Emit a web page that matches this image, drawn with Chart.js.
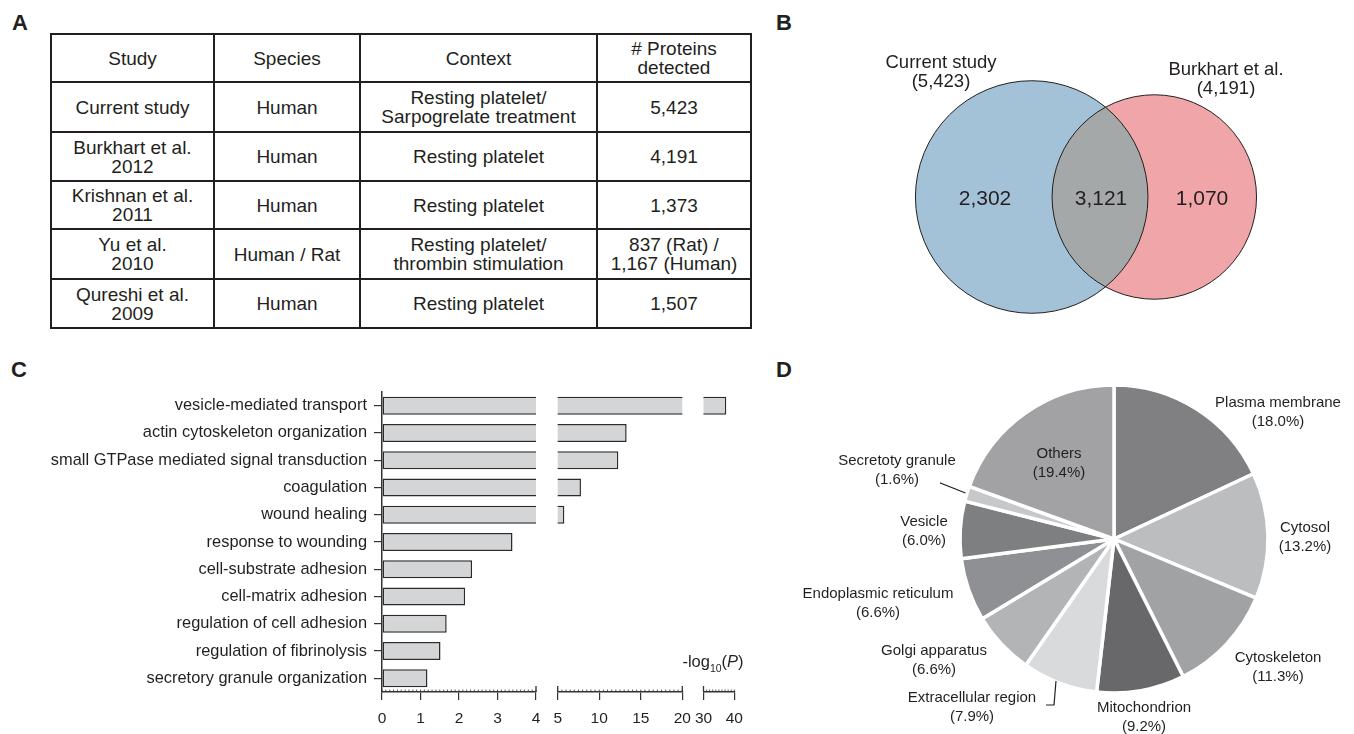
<!DOCTYPE html>
<html>
<head>
<meta charset="utf-8">
<script src="https://cdn.jsdelivr.net/npm/chart.js@4.4.1/dist/chart.umd.min.js"></script>
<style>
  html, body { margin: 0; padding: 0; background: #fff; }
  body { width: 1354px; height: 734px; position: relative; overflow: hidden;
         font-family: "Liberation Sans", Arial, sans-serif; color: #231f20; }
  .letter { position: absolute; font-weight: bold; font-size: 22px; line-height: 22px; }
  table.studies { position: absolute; left: 50px; top: 33px; border-collapse: collapse;
                  table-layout: fixed; font-size: 19px; line-height: 19px; }
  table.studies td { border: 2px solid #231f20; text-align: center; vertical-align: middle; padding: 0; }
  .lbl { position: absolute; transform: translate(-50%, -50%); text-align: center; white-space: nowrap; }
  canvas { position: absolute; }
</style>
</head>
<body>
<div class="letter" style="left:12px;top:12px">A</div>
<div class="letter" style="left:776px;top:12px">B</div>
<div class="letter" style="left:11px;top:359px">C</div>
<div class="letter" style="left:776px;top:359px">D</div>

<table class="studies" id="studies"></table>

<canvas id="venn" width="420" height="300" style="left:880px;top:47px"></canvas>
<canvas id="go-a" width="560" height="350" style="left:0px;top:380px"></canvas>
<canvas id="go-b" width="160" height="350" style="left:540px;top:380px"></canvas>
<canvas id="go-c" width="62" height="350" style="left:690px;top:380px"></canvas>
<canvas id="pie" width="348" height="340" style="left:940px;top:369px"></canvas>

<div class="lbl" style="left:713px;top:663px;font-size:16.5px">-log<sub style="font-size:10.5px">10</sub>(<i>P</i>)</div>

<script>
/* Platelet proteome figure — panels A-D. */

// ---- A: study table ----
const tableHead = ['Study', 'Species', 'Context', '# Proteins<br>detected'];
const tableStudies = ['Current study', 'Burkhart et al.<br>2012', 'Krishnan et al.<br>2011', 'Yu et al.<br>2010', 'Qureshi et al.<br>2009'];
const tableSpecies = ['Human', 'Human', 'Human', 'Human / Rat', 'Human'];
const tableContexts = ['Resting platelet/<br>Sarpogrelate treatment', 'Resting platelet', 'Resting platelet',
  'Resting platelet/<br>thrombin stimulation', 'Resting platelet'];
const tableProteins = ['5,423', '4,191', '1,373', '837 (Rat) /<br>1,167 (Human)', '1,507'];

// ---- B: overlap of protein sets ----
const vennSets = ['Current study', 'Burkhart et al.'];
const vennTotals = [5423, 4191];
const vennShared = 3121;

// ---- C: GO biological process enrichment, -log10(P) ----
const goTerms = ['vesicle-mediated transport', 'actin cytoskeleton organization',
  'small GTPase mediated signal transduction', 'coagulation', 'wound healing',
  'response to wounding', 'cell-substrate adhesion', 'cell-matrix adhesion',
  'regulation of cell adhesion', 'regulation of fibrinolysis', 'secretory granule organization'];
const goLogP = [37.4, 13.3, 12.3, 7.8, 5.8, 3.39, 2.34, 2.16, 1.68, 1.52, 1.18];

// ---- D: subcellular localisation ----
const locNames = ['Plasma membrane', 'Cytosol', 'Cytoskeleton', 'Mitochondrion', 'Extracellular region',
  'Golgi apparatus', 'Endoplasmic reticulum', 'Vesicle', 'Secretoty granule', 'Others'];
const locPercents = [18.0, 13.2, 11.3, 9.2, 7.9, 6.6, 6.6, 6.0, 1.6, 19.4];

// styles / layout
const FONT = '"Liberation Sans", Arial, sans-serif';
const INK = '#231f20';
const locColors = ['#808082', '#bcbdbf', '#a1a2a4', '#68686a', '#d9dadc', '#b3b4b6', '#8f9093', '#7e7f81', '#c7c8ca', '#a2a2a4'];
const locLabelAt = [[1278, 411], [1305, 536], [1278, 666], [1144, 716], [972, 706],
  [934, 659], [878, 602], [924, 530], [897, 469], [1059, 462]];
const VENN_K = 1.579; // px per sqrt(count)

Chart.defaults.font.family = FONT;
Chart.defaults.color = INK;
Chart.defaults.animation = false;
Chart.defaults.responsive = false;
Chart.defaults.events = [];
Chart.defaults.plugins.legend.display = false;
Chart.defaults.plugins.tooltip.enabled = false;

// ---- table ----
function renderTable() {
  const t = document.getElementById('studies');
  const widths = [163, 146, 237, 154];
  const heights = [48, 50, 49, 48, 50, 49];
  let html = '<colgroup>' + widths.map(w => `<col style="width:${w}px">`).join('') + '</colgroup>';
  html += `<tr style="height:${heights[0]}px">` + tableHead.map(h => `<td>${h}</td>`).join('') + '</tr>';
  tableStudies.forEach((s, i) => {
    html += `<tr style="height:${heights[i + 1]}px"><td>${s}</td><td>${tableSpecies[i]}</td>` +
      `<td>${tableContexts[i]}</td><td>${tableProteins[i]}</td></tr>`;
  });
  t.innerHTML = html;
}

// ---- labels as html text ----
function addLabel(x, y, html, size, lh) {
  const d = document.createElement('div');
  d.className = 'lbl';
  d.style.left = x + 'px';
  d.style.top = y + 'px';
  d.style.fontSize = size + 'px';
  d.style.lineHeight = lh + 'px';
  d.innerHTML = html;
  document.body.appendChild(d);
}

// ---- Venn: two bubbles + lens ----
const vennLens = {
  id: 'vennLens',
  afterDatasetsDraw(chart, args, opts) {
    const a = chart.getDatasetMeta(0).data[0];
    const b = chart.getDatasetMeta(1).data[0];
    const ctx = chart.ctx;
    ctx.save();
    ctx.beginPath(); ctx.arc(a.x, a.y, a.options.radius, 0, Math.PI * 2); ctx.clip();
    ctx.beginPath(); ctx.arc(b.x, b.y, b.options.radius, 0, Math.PI * 2);
    ctx.fillStyle = opts.color; ctx.fill();
    ctx.restore();
    ctx.save();
    ctx.lineWidth = opts.lineWidth; ctx.strokeStyle = opts.stroke;
    [a, b].forEach(p => { ctx.beginPath(); ctx.arc(p.x, p.y, p.options.radius, 0, Math.PI * 2); ctx.stroke(); });
    ctx.restore();
  }
};

function renderVenn() {
  new Chart(document.getElementById('venn'), {
    type: 'bubble',
    data: {
      datasets: [
        { data: [{ x: 0, y: 0, r: VENN_K * Math.sqrt(vennTotals[0]) }], backgroundColor: '#a3c1d7' },
        { data: [{ x: 1, y: 0, r: VENN_K * Math.sqrt(vennTotals[1]) }], backgroundColor: '#f0a6a8' }
      ]
    },
    options: {
      layout: { padding: 0, autoPadding: false },
      elements: { point: { borderWidth: 0 } },
      scales: {
        x: { display: false, min: -1.2374, max: 2.1884 },
        y: { display: false, min: -1, max: 1 }
      },
      plugins: { vennLens: { color: '#a5a8a9', stroke: INK, lineWidth: 1 } }
    },
    plugins: [vennLens]
  });
  const fmt = n => n.toLocaleString('en-US');
  addLabel(941, 70.5, `${vennSets[0]}<br>(${fmt(vennTotals[0])})`, 18.5, 19);
  addLabel(1226, 78, `${vennSets[1]}<br>(${fmt(vennTotals[1])})`, 18.5, 19);
  addLabel(985, 198, fmt(vennTotals[0] - vennShared), 21, 22);
  addLabel(1101, 198, fmt(vennShared), 21, 22);
  addLabel(1202, 198, fmt(vennTotals[1] - vennShared), 21, 22);
}

// ---- C: broken x axis = three bar charts side by side ----
const axisMarks = {
  id: 'axisMarks',
  afterDraw(chart, args, opts) {
    const s = chart.scales.x;
    const ctx = chart.ctx;
    const y0 = s.top;
    ctx.save();
    ctx.strokeStyle = '#333';
    ctx.lineWidth = 0.8;
    ctx.beginPath();
    for (let v = s.min; v <= s.max + 1e-9; v += opts.minor) {
      const x = s.getPixelForValue(v);
      ctx.moveTo(x, y0); ctx.lineTo(x, y0 - 2.5);
    }
    ctx.stroke();
    ctx.lineWidth = 1.3;
    ctx.beginPath();
    opts.cross.forEach(v => {
      const x = s.getPixelForValue(v);
      ctx.moveTo(x, y0 - 6); ctx.lineTo(x, y0);
    });
    ctx.stroke();
    ctx.restore();
  }
};

function goChart(id, min, max, step, padding, showLabels, marks) {
  return new Chart(document.getElementById(id), {
    type: 'bar',
    data: {
      labels: goTerms,
      datasets: [{
        data: goLogP,
        backgroundColor: '#d4d5d7',
        borderColor: '#2b2b2b',
        borderWidth: 1.5,
        borderSkipped: false,
        barPercentage: 0.66,
        categoryPercentage: 1,
        clip: 0
      }]
    },
    options: {
      indexAxis: 'y',
      layout: { padding, autoPadding: false },
      scales: {
        x: {
          type: 'linear', min, max,
          ticks: { stepSize: step, padding: 9, font: { size: 15.5 }, color: INK },
          grid: { drawOnChartArea: false, tickLength: 8, color: '#333', lineWidth: 1.2 },
          border: { color: '#333', width: 1.5 },
          afterFit(s) { s.height = 38; s.paddingLeft = 0; s.paddingRight = 0; }
        },
        y: showLabels ? {
          ticks: { autoSkip: false, padding: 7, font: { size: 16.4 }, color: INK },
          grid: { offset: false, drawOnChartArea: false, tickLength: 8, color: '#333', lineWidth: 1.2 },
          border: { color: '#333', width: 1.5 },
          afterFit(s) { s.width = 382; s.paddingTop = 0; s.paddingBottom = 0; }
        } : { display: false }
      },
      plugins: { axisMarks: marks }
    },
    plugins: [axisMarks]
  });
}

// ---- D: pie ----
const leaderLines = {
  id: 'leaderLines',
  afterDraw(chart, args, opts) {
    const ctx = chart.ctx;
    const ox = chart.canvas.offsetLeft, oy = chart.canvas.offsetTop;
    ctx.save();
    ctx.strokeStyle = INK;
    ctx.lineWidth = 1.2;
    opts.paths.forEach(p => {
      ctx.beginPath();
      p.forEach(([x, y], i) => i ? ctx.lineTo(x - ox, y - oy) : ctx.moveTo(x - ox, y - oy));
      ctx.stroke();
    });
    ctx.restore();
  }
};

function renderPie() {
  new Chart(document.getElementById('pie'), {
    type: 'pie',
    data: {
      labels: locNames,
      datasets: [{
        data: locPercents,
        backgroundColor: locColors,
        borderColor: '#ffffff',
        borderWidth: 3.5,
        radius: 154
      }]
    },
    options: {
      layout: { padding: 0 },
      plugins: {
        leaderLines: { paths: [
          [[931.5, 479.5], [965.5, 493]],
          [[1056, 681], [1054, 705], [1046, 705]]
        ] }
      }
    },
    plugins: [leaderLines]
  });
  locNames.forEach((n, i) => {
    const [x, y] = locLabelAt[i];
    addLabel(x, y, `${n}<br>(${locPercents[i].toFixed(1)}%)`, 15, 18.5);
  });
}

// ---- Boot ----
renderTable();
renderVenn();
goChart('go-a', 0, 4, 1, { top: 12, right: 24, left: 0, bottom: 0 }, true, { minor: 0.1, cross: [4] });
goChart('go-b', 5, 20, 5, { top: 12, right: 17.7, left: 17.7, bottom: 0 }, false, { minor: 0.5, cross: [5, 20] });
goChart('go-c', 30, 40, 10, { top: 12, right: 17.7, left: 13.5, bottom: 0 }, false, { minor: 1, cross: [30] });
renderPie();
</script>
</body>
</html>
